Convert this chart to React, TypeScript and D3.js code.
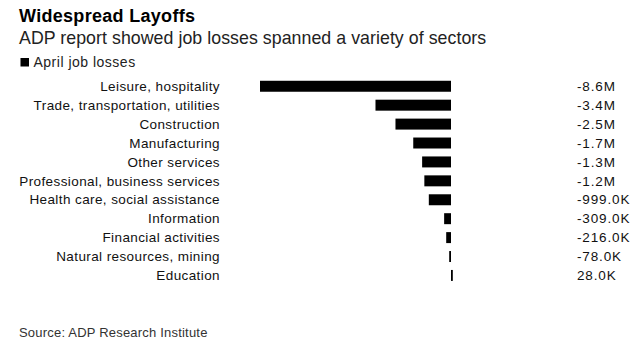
import React from "react";
import * as d3 from "d3";

const categories = [
  "Leisure, hospitality",
  "Trade, transportation, utilities",
  "Construction",
  "Manufacturing",
  "Other services",
  "Professional, business services",
  "Health care, social assistance",
  "Information",
  "Financial activities",
  "Natural resources, mining",
  "Education",
];

const values = [
  -8600000, -3400000, -2500000, -1700000, -1300000, -1200000, -999000, -309000,
  -216000, -78000, 28000,
];

const title = "Widespread Layoffs";
const subtitle = "ADP report showed job losses spanned a variety of sectors";
const legendLabel = "April job losses";
const source = "Source: ADP Research Institute";

const W = 641;
const H = 346;
const FONT = "'Liberation Sans', Arial, Helvetica, sans-serif";

function fmt(v: number): string {
  const a = Math.abs(v);
  if (a >= 1e6) return (v / 1e6).toFixed(1) + "M";
  return (v / 1e3).toFixed(1) + "K";
}

export default function App() {
  const x = d3.scaleLinear().domain([-8600000, 0]).range([260, 451]);
  const y = d3
    .scaleBand<string>()
    .domain(categories)
    .range([76.8, 284.9])
    .paddingInner(0.42)
    .paddingOuter(0.21);

  return (
    <svg
      width={W}
      height={H}
      style={{ position: "absolute", left: 0, top: 0, background: "#fff" }}
      fontFamily={FONT}
    >
      <rect x={0} y={0} width={W} height={H} fill="#fff" />
      <text x={19} y={22} fontSize={18} fontWeight="bold" letterSpacing={0.3} fill="#000">
        {title}
      </text>
      <text x={19} y={43.5} fontSize={17.75} letterSpacing={0.05} fill="#222">
        {subtitle}
      </text>
      <rect x={20.5} y={58} width={8.5} height={8.5} fill="#000" />
      <text x={33.5} y={66.5} fontSize={14} letterSpacing={0.5} fill="#222">
        {legendLabel}
      </text>

      {categories.map((c, i) => {
        const v = values[i];
        const x0 = x(Math.min(v, 0));
        const x1 = x(Math.max(v, 0));
        const w = Math.max(x1 - x0, 1.8);
        const by = y(c)!;
        const bh = y.bandwidth();
        const cy = by + bh / 2;
        return (
          <g key={c}>
            <text
              x={220}
              y={cy + 4.7}
              textAnchor="end"
              fontSize={13.5}
              letterSpacing={0.4}
              fill="#111"
            >
              {c}
            </text>
            <rect x={v < 0 ? x1 - w : x0} y={by} width={w} height={bh} fill="#000" />
            <text x={577} y={cy + 4.7} fontSize={13.5} letterSpacing={0.85} fill="#111">
              {fmt(v)}
            </text>
          </g>
        );
      })}

      <text x={19} y={337} fontSize={13} letterSpacing={0.2} fill="#333">
        {source}
      </text>
    </svg>
  );
}
